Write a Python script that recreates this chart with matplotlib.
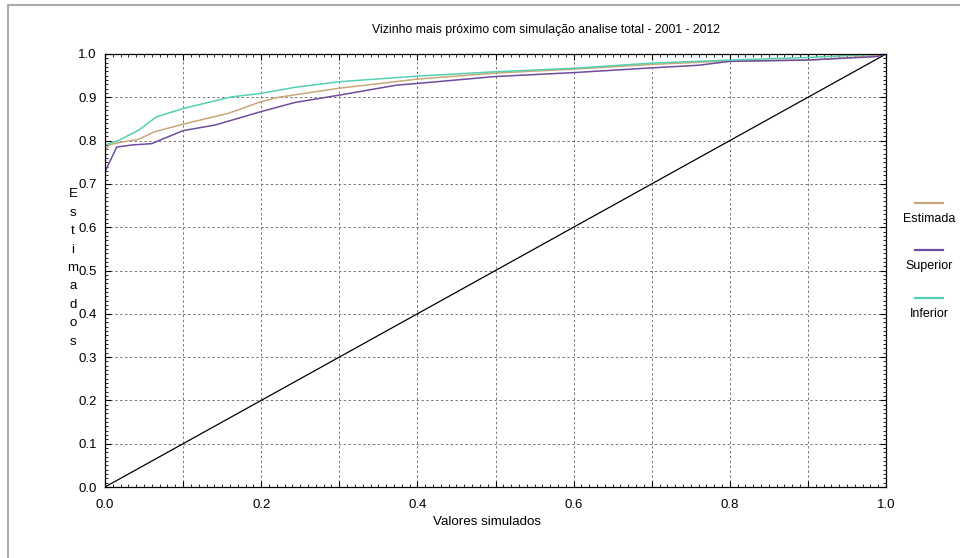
import numpy as np
import matplotlib.pyplot as plt
from matplotlib.lines import Line2D
from matplotlib.ticker import FixedLocator

plt.rcParams['font.family'] = ['Liberation Sans', 'DejaVu Sans']

# simulated values (x) and estimated values (y)
est_x = [0.0, 0.005, 0.017, 0.043, 0.063, 0.1, 0.158, 0.2, 0.222, 0.3, 0.4, 0.5, 0.6, 0.7, 0.8, 0.9, 0.97, 1.0]
est_y = [0.775, 0.79, 0.795, 0.803, 0.82, 0.838, 0.863, 0.89, 0.9, 0.921, 0.942, 0.956, 0.965, 0.976, 0.984, 0.986, 0.994, 1.0]

sup_x = [0.0, 0.015, 0.035, 0.06, 0.073, 0.1, 0.141, 0.2, 0.243, 0.3, 0.373, 0.4, 0.5, 0.6, 0.7, 0.76, 0.8, 0.9, 0.988, 1.0]
sup_y = [0.728, 0.785, 0.79, 0.793, 0.803, 0.823, 0.836, 0.867, 0.888, 0.905, 0.928, 0.932, 0.948, 0.957, 0.968, 0.974, 0.983, 0.986, 0.994, 1.0]

inf_x = [0.0, 0.017, 0.043, 0.066, 0.1, 0.162, 0.2, 0.243, 0.3, 0.4, 0.5, 0.6, 0.7, 0.8, 0.9, 0.97, 1.0]
inf_y = [0.79, 0.8, 0.824, 0.855, 0.874, 0.901, 0.909, 0.923, 0.936, 0.949, 0.959, 0.967, 0.979, 0.986, 0.992, 0.998, 1.0]

ref_x = [0.0, 1.0]
ref_y = [0.0, 1.0]

ticks = [0.0, 0.1, 0.2, 0.3, 0.4, 0.5, 0.6, 0.7, 0.8, 0.9, 1.0]
names = ['Estimada', 'Superior', 'Inferior']
colours = ['#c8a878', '#6e4c9e', '#55d0b2']

fig = plt.figure(figsize=(9.6, 5.58), dpi=100)
ax = fig.add_axes([105/960, 1-487/558, 781/960, 433/558])

ax.plot(ref_x, ref_y, color='black', lw=0.9)
ax.plot(est_x, est_y, color=colours[0], lw=1.1)
ax.plot(sup_x, sup_y, color=colours[1], lw=1.1)
ax.plot(inf_x, inf_y, color=colours[2], lw=1.1)

ax.set_xlim(0, 1)
ax.set_ylim(0, 1)
ax.set_xticks(ticks)
ax.set_yticks(ticks)
ax.set_xticklabels(['%.1f' % v if i % 2 == 0 else '' for i, v in enumerate(ticks)])
ax.set_yticklabels(['%.1f' % v for v in ticks])
minor = list(np.round(np.arange(0, 1.001, 0.01), 2))
ax.xaxis.set_minor_locator(FixedLocator(minor))
ax.yaxis.set_minor_locator(FixedLocator(minor))
ax.tick_params(which='both', direction='in', top=True, right=True, labelsize=9.5)
ax.tick_params(which='major', length=4)
ax.tick_params(axis='x', which='major', pad=9)
ax.tick_params(axis='y', which='major', pad=6)
ax.tick_params(which='minor', length=2.5)
ax.grid(True, which='major', color='#777777', linestyle=(0, (2.5, 2.5)), lw=0.7)
for s in ax.spines.values():
    s.set_linewidth(0.9)

fig.text(546/960, 1-30/558, 'Vizinho mais próximo com simulação analise total - 2001 - 2012',
         ha='center', va='center', fontsize=8.8)
fig.text(487/960, 1-522/558, 'Valores simulados', ha='center', va='center', fontsize=9.6)
fig.text(73/960, 1-268/558, '\n'.join('Estimados'), ha='center', va='center',
         fontsize=9.5, linespacing=1.72)

# legend outside on the right: line sample above each label
line_y = [203, 250, 298]
for name, c, ly in zip(names, colours, line_y):
    fig.add_artist(Line2D([915/960, 943/960], [1-ly/558, 1-ly/558], color=c, lw=1.6))
    fig.text(929/960, 1-(ly+16)/558, name, ha='center', va='center', fontsize=9)

# grey frame on the top and left edges
fig.add_artist(Line2D([8/960, 8/960, 1], [0, 1-5/558, 1-5/558], color='#aaaaaa', lw=1.5))

plt.savefig('out.png')
